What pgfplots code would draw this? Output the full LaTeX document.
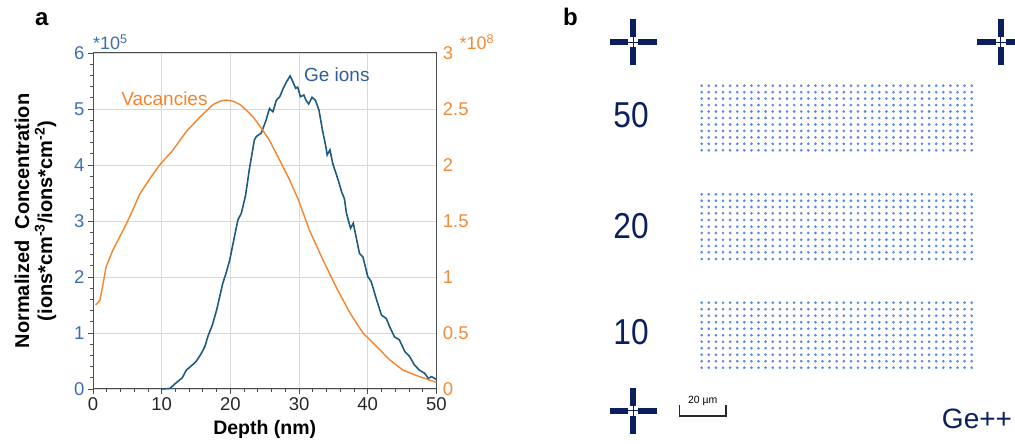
\documentclass[border=0pt]{standalone}
\usepackage{pgfplots}
\pgfplotsset{compat=1.18}
\usepackage{pgfplotstable}
\usepackage{fontspec}
\setmainfont{Liberation Sans}
\newfontfamily\condfont[FakeStretch=0.88]{Liberation Sans}
\definecolor{geblue}{HTML}{1F5B7E}
\definecolor{vacor}{HTML}{F5842C}
\definecolor{tickblue}{HTML}{3C6DB4}
\definecolor{labblue}{HTML}{2F5E99}
\definecolor{tickor}{HTML}{F28A3A}
\definecolor{navy}{HTML}{0B1F5C}
\definecolor{dotblue}{HTML}{5A8AE0}
\definecolor{gridgray}{HTML}{D9D9D9}
\definecolor{framegray}{HTML}{4D4D4D}

\pgfplotstableread{
x y
10.0 0.00
11.2 0.01
12.1 0.11
13.0 0.20
13.6 0.34
14.3 0.41
15.0 0.49
15.7 0.62
16.3 0.76
16.7 0.93
17.4 1.15
18.0 1.41
18.9 1.89
19.4 2.08
19.9 2.30
20.6 2.72
21.1 3.02
21.6 3.14
22.2 3.45
22.8 3.95
23.5 4.45
23.8 4.51
24.5 4.57
25.2 4.80
25.7 5.01
26.2 4.95
26.7 5.16
27.2 5.22
27.7 5.37
28.2 5.49
28.7 5.59
29.1 5.49
29.5 5.37
29.8 5.39
30.2 5.22
30.7 5.25
31.0 5.16
31.4 5.09
31.9 5.21
32.4 5.15
32.9 4.98
33.4 4.63
33.9 4.33
34.1 4.18
34.5 4.27
34.9 4.03
35.7 3.73
36.2 3.52
36.6 3.40
36.9 3.14
37.5 2.87
37.9 2.96
38.3 2.72
38.8 2.42
39.3 2.36
40.0 2.01
40.5 1.92
41.3 1.59
42.0 1.32
42.7 1.26
43.2 1.11
43.9 0.93
44.6 0.88
45.4 0.67
46.1 0.58
46.8 0.43
47.5 0.34
48.3 0.28
48.8 0.19
49.3 0.22
50.0 0.17
}\getable

\pgfplotstableread{
x y
0.4 0.75
1.0 0.79
1.5 0.95
1.9 1.09
2.9 1.24
3.9 1.36
4.9 1.48
5.8 1.60
6.8 1.74
8.3 1.88
9.7 2.00
11.6 2.13
13.6 2.30
15.6 2.43
17.5 2.54
18.5 2.57
19.4 2.58
20.4 2.57
21.4 2.54
22.3 2.49
23.3 2.43
24.5 2.33
25.7 2.22
27.2 2.04
28.6 1.87
29.9 1.69
31.5 1.42
33.5 1.15
35.4 0.91
37.4 0.68
39.3 0.50
41.3 0.38
43.2 0.26
45.1 0.17
47.1 0.12
49.0 0.08
50.0 0.06
}\vactable

\pgfplotstableread{
i x
0 701.7
1 708.8
2 715.9
3 723.0
4 730.1
5 737.2
6 744.3
7 751.4
8 758.5
9 765.6
10 772.8
11 779.9
12 787.0
13 794.1
14 801.2
15 808.3
16 815.4
17 822.5
18 829.6
19 836.7
20 843.8
21 850.9
22 858.0
23 865.1
24 872.2
25 879.3
26 886.4
27 893.5
28 900.6
29 907.7
30 914.9
31 922.0
32 929.1
33 936.2
34 943.3
35 950.4
36 957.5
37 964.6
38 971.7
}\dotcols

\begin{document}
\begin{tikzpicture}
\path[use as bounding box] (0,0) rectangle (1015pt,444pt);

% ---------------- panel a, left axis
\begin{axis}[
  at={(93pt,55pt)}, anchor=south west,
  scale only axis, width=343.4pt, height=336pt,
  xmin=0, xmax=50, ymin=0, ymax=6,
  clip=false,
  xtick={0,10,...,50}, ytick={0,1,...,6},
  minor x tick num=4, minor y tick num=4,
  xtick pos=left, ytick pos=left,
  tick align=outside,
  major tick length=5pt, minor tick length=3pt,
  every tick/.style={framegray, line width=0.8pt},
  axis line style={framegray, line width=1pt},
  grid=major, major grid style={gridgray, line width=0.8pt},
  /pgf/number format/assume math mode=true,
  xticklabel style={font=\fontsize{18.5}{21}\selectfont, text=black!85},
  yticklabel style={font=\fontsize{18.5}{21}\selectfont, text=tickblue},
  xlabel={\bfseries Depth (nm)},
  xlabel style={font=\fontsize{19.5}{23}\selectfont, yshift=-3pt},
  ylabel={\bfseries Normalized\ \ Concentration\\\bfseries (ions*cm\textsuperscript{-3}/ions*cm\textsuperscript{-2})},
  ylabel style={font=\fontsize{20}{23}\selectfont, align=center, yshift=11pt},
]
\addplot[geblue, line width=1.6pt] table[x=x,y=y]{\getable};
\node[font=\fontsize{19}{23}\selectfont, text=vacor] at (axis cs:10.4,5.18) {Vacancies};
\node[font=\fontsize{19}{23}\selectfont, text=labblue] at (axis cs:35.5,5.61) {Ge ions};
\node[font=\fontsize{18}{21}\selectfont, text=tickblue, anchor=south west, inner sep=0pt, yshift=3pt] at (rel axis cs:0,1) {*10\textsuperscript{5}};
\end{axis}

% ---------------- panel a, right axis
\begin{axis}[
  at={(93pt,55pt)}, anchor=south west,
  scale only axis, width=343.4pt, height=336pt,
  xmin=0, xmax=50, ymin=0, ymax=3,
  clip=false,
  axis x line=none, axis y line*=right,
  y axis line style={draw=none},
  ytick={0,0.5,...,3},
  major tick length=0pt,
  /pgf/number format/assume math mode=true,
  yticklabel style={font=\fontsize{18.5}{21}\selectfont, text=tickor, xshift=3pt},
]
\addplot[vacor, line width=1.4pt] table[x=x,y=y]{\vactable};
\node[font=\fontsize{18}{21}\selectfont, text=tickor, anchor=south west, inner sep=0pt, xshift=23pt, yshift=3pt] at (rel axis cs:1,1) {*10\textsuperscript{8}};
\end{axis}

\node[font=\fontsize{24}{28}\selectfont\bfseries, anchor=base west, inner sep=0pt] at (35pt,418pt) {a};
\node[font=\fontsize{24}{28}\selectfont\bfseries, anchor=base west, inner sep=0pt] at (563pt,418pt) {b};

% ---------------- panel b
\begin{axis}[
  at={(560pt,0pt)}, anchor=south west,
  scale only axis, width=455pt, height=444pt,
  xmin=560, xmax=1015, ymin=0, ymax=444,
  axis lines=none,
]
\pgfplotsinvokeforeach{358.3,351.8,345.4,338.9,332.5,326.0,319.5,313.1,306.6,300.2,293.7,249.7,243.3,237.0,230.7,224.0,217.3,211.0,204.3,198.0,191.7,185.0,141.3,134.8,128.3,121.8,115.3,108.8,102.3,95.8,89.3,82.8,76.3}{
  \addplot[only marks, mark=*, mark size=1.15pt, color=dotblue, mark options={draw=none}] table[x=x, y expr=#1]{\dotcols};
}
% crosshair 1 (633.3, 401.7)
\addplot[navy, line width=5.7pt, line cap=butt] coordinates {(610.0,401.7) (628.3,401.7)};
\addplot[navy, line width=5.7pt, line cap=butt] coordinates {(638.3,401.7) (656.7,401.7)};
\addplot[navy, line width=5.7pt, line cap=butt] coordinates {(633.3,378.7) (633.3,396.7)};
\addplot[navy, line width=5.7pt, line cap=butt] coordinates {(633.3,406.7) (633.3,424.7)};
\addplot[navy, line width=1pt] coordinates {(627.3,401.7) (639.3,401.7)};
\addplot[navy, line width=1pt] coordinates {(633.3,395.7) (633.3,407.7)};
% crosshair 2 (1000.7, 401.7)
\addplot[navy, line width=5.7pt, line cap=butt] coordinates {(977.4,401.7) (995.7,401.7)};
\addplot[navy, line width=5.7pt, line cap=butt] coordinates {(1005.7,401.7) (1024.0,401.7)};
\addplot[navy, line width=5.7pt, line cap=butt] coordinates {(1000.7,378.7) (1000.7,396.7)};
\addplot[navy, line width=5.7pt, line cap=butt] coordinates {(1000.7,406.7) (1000.7,424.7)};
\addplot[navy, line width=1pt] coordinates {(994.7,401.7) (1006.7,401.7)};
\addplot[navy, line width=1pt] coordinates {(1000.7,395.7) (1000.7,407.7)};
% crosshair 3 (633.3, 33.3)
\addplot[navy, line width=5.7pt, line cap=butt] coordinates {(610.0,33.3) (628.3,33.3)};
\addplot[navy, line width=5.7pt, line cap=butt] coordinates {(638.3,33.3) (656.7,33.3)};
\addplot[navy, line width=5.7pt, line cap=butt] coordinates {(633.3,10.3) (633.3,28.3)};
\addplot[navy, line width=5.7pt, line cap=butt] coordinates {(633.3,38.3) (633.3,56.3)};
\addplot[navy, line width=1pt] coordinates {(627.3,33.3) (639.3,33.3)};
\addplot[navy, line width=1pt] coordinates {(633.3,27.3) (633.3,39.3)};
% scale bar
\addplot[black!85, line width=1.3pt] coordinates {(679.3,28) (726.0,28)};
\addplot[black!85, line width=1.3pt] coordinates {(679.3,26.7) (679.3,38.7)};
\addplot[black!85, line width=1.3pt] coordinates {(726.0,26.7) (726.0,38.7)};
\node[font=\fontsize{10.5}{12}\selectfont, anchor=base] at (axis cs:702.7,40) {20 µm};
% labels
\node[font=\fontsize{36}{40}\selectfont\condfont, text=navy, anchor=base] at (axis cs:631,316) {50};
\node[font=\fontsize{36}{40}\selectfont\condfont, text=navy, anchor=base] at (axis cs:631,205) {20};
\node[font=\fontsize{36}{40}\selectfont\condfont, text=navy, anchor=base] at (axis cs:631,99) {10};
\node[font=\fontsize{28}{32}\selectfont, text=navy, anchor=base] at (axis cs:977,15.7) {Ge++};
\end{axis}
\end{tikzpicture}
\end{document}
